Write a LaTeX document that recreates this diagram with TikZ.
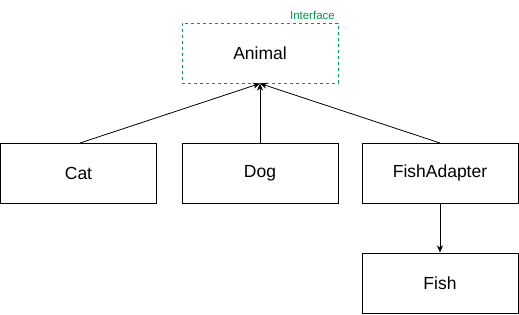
\documentclass[tikz,border=0pt]{standalone}
\usepackage{fontspec}
\setmainfont{Liberation Sans}
\usetikzlibrary{arrows.meta}
\definecolor{ifgreen}{HTML}{00994D}
\tikzset{
  box/.style={draw=black, line width=1pt, minimum width=156pt, minimum height=60pt, inner sep=0pt, font=\fontsize{17.5}{20}\selectfont},
  iface/.style={box, draw=ifgreen, dashed, dash pattern=on 3pt off 3pt},
  conn/.style={line width=0.8pt, -{Stealth[length=7pt,width=6pt,inset=2pt]}},
  x=1pt, y=-1pt
}
\begin{document}
\begin{tikzpicture}
\useasboundingbox (0,0) rectangle (519,314);
\node[iface] (animal) at (260,53) {\raisebox{-1.5pt}{Animal}};
\node[anchor=south east, text=ifgreen, font=\fontsize{11.5}{13}\selectfont, inner sep=0pt] (lbl) at (335,20) {Interface};
\node[box] (cat) at (78.5,173) {\raisebox{-1.5pt}{Cat}};
\node[box] (dog) at (260,173) {\raisebox{-1.5pt}{Dog}};
\node[box] (fa) at (440,173) {\raisebox{-1.5pt}{FishAdapter}};
\node[box] (fish) at (440,283) {\raisebox{-1.5pt}{Fish}};
\coordinate (cattop) at (80,143);
\coordinate (fatop) at (440,143);
\draw[conn] (cattop) -- (animal.south);
\draw[conn] (dog.north) -- (animal.south);
\draw[conn] (fatop) -- (animal.south);
\draw[conn] (fa.south) -- (fish.north);
\end{tikzpicture}
\end{document}
